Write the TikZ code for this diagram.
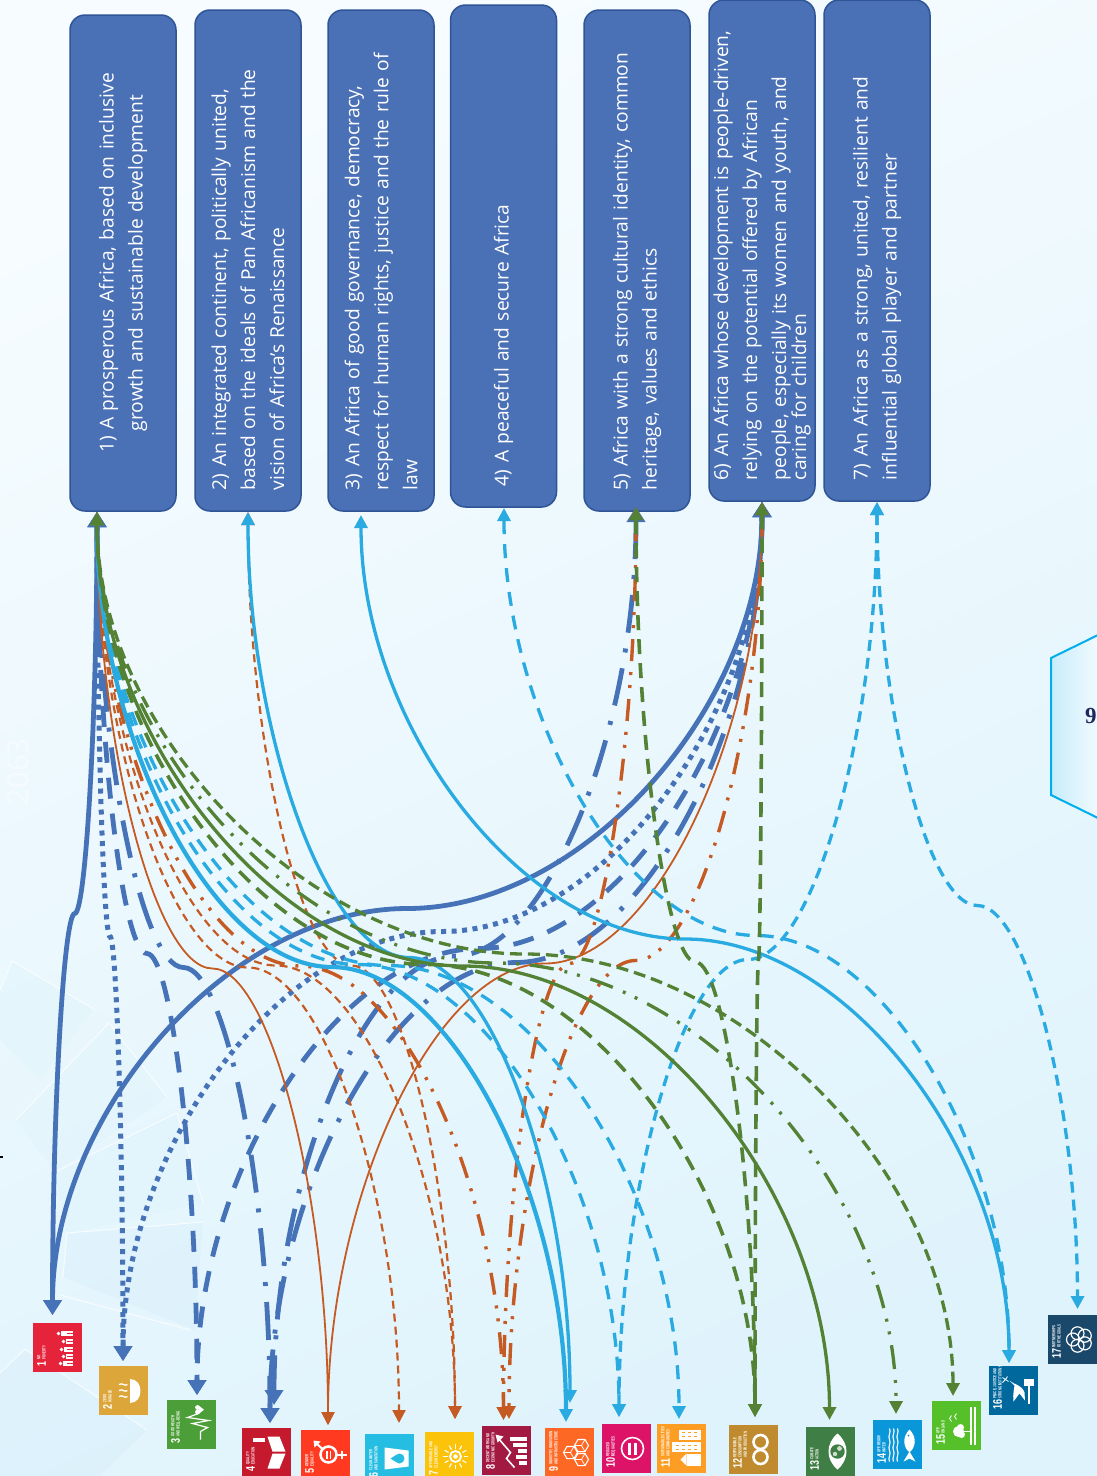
\documentclass[tikz,border=0pt]{standalone}
\usepackage{fontspec}
\setmainfont{Open Sans}
\newfontfamily\numfont{Liberation Sans}
\newfontfamily\serfont{Liberation Serif}
\usetikzlibrary{arrows.meta,calc,shapes.geometric}
\definecolor{cblue}{HTML}{4672B8}
\definecolor{corange}{HTML}{C55A22}
\definecolor{clight}{HTML}{29ABE2}
\definecolor{cgreen}{HTML}{548235}
\definecolor{boxfill}{HTML}{4A70B6}
\definecolor{boxline}{HTML}{2F5597}
\definecolor{bgA}{HTML}{DFF3FC}
\definecolor{bgB}{HTML}{F6FCFF}
\definecolor{hexA}{HTML}{C8ECFB}
\definecolor{hexB}{HTML}{F0FAFE}
\definecolor{hexC}{HTML}{00AEEF}
\definecolor{navynine}{HTML}{22265E}
\definecolor{decoblue}{HTML}{BFE6F8}
\colorlet{sdgc}{black}
\tikzset{
  goalbox/.style={draw=boxline,line width=1.5pt,fill=boxfill,rounded corners=15pt,rotate=90,
     text=white,font=\fontsize{19.2}{29}\selectfont,inner xsep=21pt,inner ysep=0pt,minimum height=106pt,align=left},
  sdgbox/.style={minimum size=49pt,inner sep=0pt,draw=none},
  hblue/.style={{Triangle[length=15pt,width=18pt]}-{Triangle[length=15pt,width=18pt]}},
  hsmall/.style={{Triangle[length=13pt,width=13pt]}-{Triangle[length=13pt,width=13pt]}},
  bl/.style={line width=4.8pt,hblue,color=cblue},
  bdot/.style={bl,line width=5pt,dash pattern=on 5pt off 5.5pt},
  bdash/.style={bl,dash pattern=on 21pt off 15pt},
  bdd/.style={bl,dash pattern=on 38pt off 16pt on 4pt off 16pt},
  og/.style={color=corange,hsmall,line width=1.8pt},
  ogs/.style={og,line width=2.2pt,dash pattern=on 8pt off 5pt},
  ogdd/.style={og,line width=3.4pt,dash pattern=on 22pt off 11pt on 3pt off 10pt on 3pt off 11pt},
  lb/.style={color=clight,hsmall,line width=3.3pt},
  lbk/.style={lb,line width=4.2pt},
  lbd/.style={lb,dash pattern=on 14pt off 10pt},
  lbe/.style={lb,dash pattern=on 11pt off 7pt},
  gr/.style={color=cgreen,hsmall,line width=3.3pt},
  grd/.style={gr,line width=3.6pt,dash pattern=on 15pt off 9pt},
  grdd/.style={gr,dash pattern=on 24pt off 11pt on 3pt off 10pt on 3pt off 11pt},
  grs/.style={gr,dash pattern=on 12pt off 6pt},
  ic/.style={line width=2pt,draw=white},
}
\newcommand{\conn}[3]{%
  \coordinate (qq) at ($(#2)!.25!(#3)$);
  \coordinate (mm) at ($(#2)!.5!(#3)$);
  \coordinate (rr) at ($(#2)!.75!(#3)$);
  \draw[#1] (#2) .. controls (#2 |- qq) and (qq |- mm) .. (mm) .. controls (rr |- mm) and (#3 |- rr) .. (#3);}
% name, cx, cy, colour, number, title, icon
\newcommand{\sdg}[7]{%
  \definecolor{sdgc}{HTML}{#4}
  \node[sdgbox,fill=sdgc] (#1) at (#2,#3) {};
  \begin{scope}[shift={(#2,#3)},rotate=90,x=1pt,y=1pt,every node/.style={transform shape}]
    \node[anchor=north west,inner sep=0pt,text=white,font=\numfont\bfseries\fontsize{12.5}{12.5}\selectfont,xscale=.72] at (-19.5,20.5) {#5};
    \node[anchor=north west,inner sep=0pt,text=white,font=\numfont\bfseries\fontsize{4.6}{5.2}\selectfont,xscale=.62,align=left] at (\ifnum#5>9 -8.5\else -12\fi,20.5) {#6};
    #7
  \end{scope}}
\newcommand{\iconpeople}{\foreach \a/\t in {-16/-5,-9/-8,-2/-6,6/-8,14/-3}{\fill[white] (\a,\t+2) circle (1.8); \fill[white] (\a-2.2,\t) rectangle (\a+2.2,-9); \fill[white] (\a-2.2,-9) rectangle (\a-.4,-15); \fill[white] (\a+.4,-9) rectangle (\a+2.2,-15);}}
\newcommand{\iconbowl}{\fill[white] (-12,-6.5) .. controls (-12,-20) and (12,-20) .. (12,-6.5) -- cycle;
  \foreach \a in {-6,0,6}{\draw[ic,line width=1.3pt] (\a,-4) .. controls (\a-2.5,-1) and (\a+2.5,1) .. (\a,4.5);}}
\newcommand{\iconheart}{\draw[ic,line width=1.2pt] (-15,-9) -- (-7,-9) -- (-3,-16) -- (1,-1) -- (4,-17) -- (7,4) -- (11,-7);
  \fill[white] (12.5,-6) circle (2.4); \fill[white] (17,-6) circle (2.4); \fill[white] (10.4,-7) -- (19.1,-7) -- (14.8,-12.5) -- cycle;}
\newcommand{\iconbook}{\fill[white] (-1,-19) -- (-16,-13) -- (-16,-1) -- (-1,-6) -- cycle; \fill[white] (1,-19) -- (16,-13) -- (16,-1) -- (1,-6) -- cycle;
  \fill[white] (11,2) rectangle (15,14);}
\newcommand{\icongender}{\draw[ic,line width=2.5pt] (0,-3) circle (8);
  \fill[white] (-4,-2) rectangle (4,-.2); \fill[white] (-4,-5.8) rectangle (4,-4);
  \draw[ic] (5.5,3) -- (12,10); \fill[white] (14,12) -- (7,11) -- (13,5) -- cycle;
  \draw[ic] (0,-11) -- (0,-21); \draw[ic] (-4,-16) -- (4,-16);}
\newcommand{\iconglass}{\fill[white] (-11,5) -- (11,5) -- (8,-19) -- (-8,-19) -- cycle;
  \fill[sdgc] (0,-1) .. controls (3,-6) and (5,-8) .. (5,-10) arc (0:-180:5) .. controls (-5,-8) and (-3,-6) .. (0,-1);}
\newcommand{\iconsun}{\draw[ic,line width=1.8pt] (0,-6) circle (5.5); \fill[white] (0,-6) circle (2.3);
  \foreach \a in {0,30,...,330}{\draw[ic,line width=1.1pt] ($(0,-6)+(\a:8)$) -- ($(0,-6)+(\a:12.5)$);}}
\newcommand{\iconbars}{\foreach \a/\h in {-12/-12,-6/-9,0/-11,6/-6,12/-3}{\fill[white] (\a-2,-20) rectangle (\a+2,\h);}
  \draw[ic,draw=white,line width=1.6pt] (-17,-8) -- (-8,0) -- (-2,-4) -- (12,8); \fill[white] (16,11) -- (8,9) -- (14,3) -- cycle;}
\newcommand{\iconcube}{\foreach \a/\b in {0/-1,-7/-12,7/-12}{\node[draw=white,line width=1.1pt,regular polygon,regular polygon sides=6,minimum size=14pt,inner sep=0pt,rotate=30] at (\a,\b) {}; \draw[white,line width=.7pt] (\a,\b) -- ++(90:7) (\a,\b) -- ++(210:7) (\a,\b) -- ++(-30:7);}}
\newcommand{\iconeq}{\draw[ic,line width=1.6pt] (0,-6) circle (11); \fill[white] (-6,-4.5) rectangle (6,-1.5); \fill[white] (-6,-10.5) rectangle (6,-7.5);}
\newcommand{\iconcity}{\fill[white] (-17,-19) rectangle (-5,-5); \fill[white] (-3,-19) rectangle (7,10); \fill[white] (9,-19) rectangle (19,3);
  \fill[white] (-17,-5) -- (-11,1) -- (-5,-5) -- cycle;
  \foreach \a in {-1,3}{\foreach \b in {-15,-9,-3,3}{\fill[sdgc] (\a-.8,\b) rectangle (\a+.8,\b+2.5);}}
  \foreach \a in {12,16}{\foreach \b in {-15,-9,-3}{\fill[sdgc] (\a-.8,\b) rectangle (\a+.8,\b+2.5);}}}
\newcommand{\iconinf}{\draw[ic,line width=2.6pt] (-7.5,-7) circle (7); \draw[ic,line width=2.6pt] (7.5,-7) circle (7);}
\newcommand{\iconeye}{\fill[white] (-18,-7) .. controls (-8,5) and (8,5) .. (18,-7) .. controls (8,-19) and (-8,-19) .. (-18,-7) -- cycle; \fill[sdgc] (0,-7) circle (7.2);
  \fill[white,opacity=.75] (-2.5,-4.5) circle (2.2); \fill[white,opacity=.75] (3,-9) circle (2.4);}
\newcommand{\iconfish}{\foreach \b in {4,0,-4}{\draw[ic,line width=1.1pt] (-17,\b+4) .. controls (-13,\b+6) and (-10,\b+2) .. (-6,\b+4) .. controls (-2,\b+6) and (1,\b+2) .. (5,\b+4) .. controls (9,\b+6) and (12,\b+2) .. (16,\b+4);}
  \fill[white] (-8,-12) .. controls (-2,-5) and (8,-5) .. (15,-12) .. controls (8,-19) and (-2,-19) .. (-8,-12) -- cycle;
  \fill[white] (-7,-12) -- (-17,-18) -- (-14,-12) -- (-17,-6) -- cycle; \fill[sdgc] (9,-11) circle (1);}
\newcommand{\icontree}{\fill[white] (-6,-2) circle (5.5); \fill[white] (-9,-5) circle (3.5); \fill[white] (-2,-4) circle (3.5); \fill[white] (-6.8,-13) rectangle (-5.2,-3);
  \fill[white] (-19,-15) rectangle (19,-13.5); \fill[white] (-19,-19) rectangle (19,-17.5);
  \draw[ic,line width=.8pt] (4,5) -- (7,7) -- (10,5); \draw[ic,line width=.8pt] (6,0) -- (9,2) -- (12,0);}
\newcommand{\icondove}{\fill[white] (10,4) .. controls (5,-2) and (6,-8) .. (-2,-11) -- (-10,-11.5) -- (-3,-6) -- (-11,0) .. controls (-3,1) and (3,-1) .. (5,-1) -- cycle;
  \draw[ic,line width=.8pt] (9,5) -- (13,11) (11,8) -- (14,6) (11,8) -- (8,11);
  \fill[white] (5,-10) rectangle (12,-20); \fill[white] (-13,-16) rectangle (5,-14);}
\newcommand{\iconflower}{\foreach \a in {90,162,234,306,378}{\draw[ic,line width=1.2pt] ($(0,-7)+(\a:6.5)$) circle (6.5);}}
\begin{document}
\begin{tikzpicture}[x=1pt,y=-1pt]
\useasboundingbox (0,0) rectangle (1097,1476);
\clip (0,0) rectangle (1097,1476);
% background
\shade[bottom color=bgA,top color=bgB,shading angle=25] (0,0) rectangle (1097,1476);
% faint decoration lower left
\begin{scope}[white,line width=1pt,draw opacity=.75]
  \fill[fill=decoblue,fill opacity=.1] (12,961) -- (94,1009) -- (40,1080) -- (0,1040) -- (0,990) -- cycle;
  \fill[fill=decoblue,fill opacity=.08] (109,1023) -- (167,1097) -- (55,1172) -- (16,1120) -- cycle;
  \fill[fill=decoblue,fill opacity=.1] (177,1113) -- (203,1203) -- (67,1233) -- (55,1172) -- cycle;
  \fill[fill=decoblue,fill opacity=.15] (67,1233) -- (203,1222) -- (195,1330) -- (63,1277) -- cycle;
  \fill[fill=decoblue,fill opacity=.15] (25,1349) -- (147,1430) -- (100,1476) -- (0,1476) -- (0,1373) -- cycle;
  \draw (12,961) -- (94,1009) (12,961) -- (0,990);
  \draw (16,1120) -- (109,1023) -- (167,1097);
  \draw (55,1172) -- (177,1113) -- (203,1203);
  \draw (203,1222) -- (67,1233) -- (63,1277);
  \draw (60,1295) -- (190,1330);
  \draw (0,1373) -- (25,1349) -- (147,1430);
\end{scope}
\node[text=white,opacity=.45,rotate=90,font=\fontsize{29}{29}\selectfont,inner sep=0pt] (yr) at (18,772) {2063};
% hexagon
\shade[left color=hexA,right color=hexB] (1051,658) -- (1097,635) -- (1097,818) -- (1051,795) -- cycle;
\draw[color=hexC,line width=2pt] (1098,635) -- (1051,658) -- (1051,795) -- (1098,818);
\node[anchor=west,inner sep=0pt,text=navynine,font=\serfont\bfseries\fontsize{23}{23}\selectfont] (pg) at (1085,716) {9};
\draw[black,line width=2pt] (0,1157) -- (3,1157);
% goal boxes
\node[goalbox,text width=454pt,align=center] (g1) at (123,263) {1) A prosperous Africa, based on inclusive\\growth and sustainable development};
\node[goalbox,text width=459pt] (g2) at (248,260.5) {2) An integrated continent, politically united,\\based on the ideals of Pan Africanism and the\\vision of Africa’s Renaissance};
\node[goalbox,text width=459pt] (g3) at (381,260.5) {3) An Africa of good governance, democracy,\\respect for human rights, justice and the rule of\\law};
\node[goalbox,text width=460pt] (g4) at (503.5,256) {4) A peaceful and secure Africa};
\node[goalbox,text width=459pt] (g5) at (637,260.5) {5) Africa with a strong cultural identity, common\\heritage, values and ethics};
\node[goalbox,text width=459pt] (g6) at (762,250.5) {6) An Africa whose development is people-driven,\\relying on the potential offered by African\\people, especially its women and youth, and\\[-9pt]caring for children};
\node[goalbox,text width=459pt] (g7) at (877,250.5) {7) An Africa as a strong, united, resilient and\\influential global player and partner};
% SDG squares
\sdg{s1}{57.5}{1347.5}{E5243B}{1}{NO\\POVERTY}{\iconpeople}
\sdg{s2}{123.5}{1390.5}{DDA63A}{2}{ZERO\\HUNGER}{\iconbowl}
\sdg{s3}{191.5}{1424.5}{4C9F38}{3}{GOOD HEALTH\\AND WELL-BEING}{\iconheart}
\sdg{s4}{266.5}{1452.5}{C5192D}{4}{QUALITY\\EDUCATION}{\iconbook}
\sdg{s5}{325.5}{1454.5}{FF3A21}{5}{GENDER\\EQUALITY}{\icongender}
\sdg{s6}{389.5}{1458.5}{26BDE2}{6}{CLEAN WATER\\AND SANITATION}{\iconglass}
\sdg{s7}{449.5}{1456.5}{FCC30B}{7}{AFFORDABLE AND\\CLEAN ENERGY}{\iconsun}
\sdg{s8}{506.5}{1450.5}{A21942}{8}{DECENT WORK AND\\ECONOMIC GROWTH}{\iconbars}
\sdg{s9}{569.5}{1452.5}{FD6925}{9}{INDUSTRY, INNOVATION\\AND INFRASTRUCTURE}{\iconcube}
\sdg{s10}{626.5}{1448.5}{DD1367}{10}{REDUCED\\INEQUALITIES}{\iconeq}
\sdg{s11}{681.5}{1448.5}{FD9D24}{11}{SUSTAINABLE CITIES\\AND COMMUNITIES}{\iconcity}
\sdg{s12}{753.5}{1449.5}{BF8B2E}{12}{RESPONSIBLE\\CONSUMPTION\\AND PRODUCTION}{\iconinf}
\sdg{s13}{830.5}{1451.5}{3F7E44}{13}{CLIMATE\\ACTION}{\iconeye}
\sdg{s14}{897.5}{1444.5}{0A97D9}{14}{LIFE BELOW\\WATER}{\iconfish}
\sdg{s15}{956.5}{1425.5}{56C02B}{15}{LIFE\\ON LAND}{\icontree}
\sdg{s16}{1013.5}{1390.5}{00689D}{16}{PEACE, JUSTICE AND\\STRONG INSTITUTIONS}{\icondove}
\sdg{s17}{1072.5}{1339.5}{19486A}{17}{PARTNERSHIPS\\FOR THE GOALS}{\iconflower}
% connector ends
\coordinate (t1) at (97,512);
\coordinate (t2) at (248,512);
\coordinate (t3) at (361,515);
\coordinate (t4) at (504,508);
\coordinate (t5) at (636,507);
\coordinate (t6) at (762,502);
\coordinate (t7) at (877,502);
\coordinate (e1) at (52.5,1315);
\coordinate (e2) at (123,1361);
\coordinate (e3) at (197,1395);
\coordinate (e4) at (270,1423);
\coordinate (e4b) at (274,1405);
\coordinate (e5) at (328,1425);
\coordinate (e6) at (399,1423);
\coordinate (e7) at (455,1419);
\coordinate (e8) at (503.5,1420);
\coordinate (e8b) at (509,1419);
\coordinate (e9) at (566,1422);
\coordinate (e9b) at (570,1403);
\coordinate (e10) at (619,1417);
\coordinate (e11) at (679,1419);
\coordinate (e12) at (755,1417);
\coordinate (e13) at (829.5,1420);
\coordinate (e14) at (896,1414);
\coordinate (e15) at (953,1396);
\coordinate (e16) at (1009,1363);
\coordinate (e17) at (1077.5,1309);
% blue
\conn{bl}{t1}{e1}\conn{bl}{t6}{e1}
\conn{bdot}{t1}{e2}\conn{bdot}{t6}{e2}
\conn{bdash}{t1}{e3}\conn{bdash}{t6}{e3}
\conn{bdd}{t1}{e4}\conn{bdd}{t6}{e4}\conn{bdd}{t5}{e4b}
% orange
\conn{og}{t1}{e5}\conn{og}{t6}{e5}
\conn{ogs}{t1}{e6}\conn{ogs}{t1}{e7}\conn{ogs}{t2}{e7}
\conn{ogdd}{t1}{e8}\conn{ogdd}{t5}{e8}\conn{ogdd}{t6}{e8b}
% light blue
\conn{lbk}{t1}{e9}\conn{lb}{t2}{e9b}\conn{lb}{t3}{e16}
\conn{lbd}{t4}{e16}
\conn{lbd}{t1}{e10}\conn{lbe}{t7}{e10}
\conn{lbd}{t1}{e11}
\conn{lbe}{t7}{e17}
% green
\conn{gr}{t1}{e13}
\conn{grd}{t1}{e12}\conn{grd}{t5}{e12}\conn{grd}{t6}{e12}
\conn{grdd}{t1}{e14}
\conn{grs}{t1}{e15}
\end{tikzpicture}
\end{document}
